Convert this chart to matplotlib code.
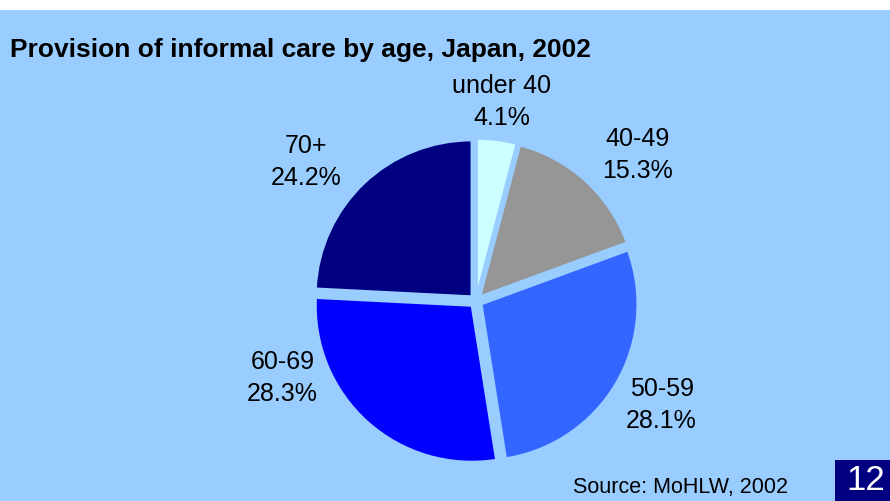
import matplotlib.pyplot as plt
from matplotlib.patches import Rectangle

plt.rcParams['font.family'] = ['Liberation Sans', 'DejaVu Sans']

# 数据
groups = ['under 40', '40-49', '50-59', '60-69', '70+']
shares = [4.1, 15.3, 28.1, 28.3, 24.2]
colors = ['#CCFFFF', '#969696', '#3366FF', '#0000FF', '#000080']
bg = '#99CCFF'

fig = plt.figure(figsize=(8.9, 5.01), dpi=100)
fig.patch.set_facecolor('white')
fig.patches.append(Rectangle((0, 0), 1, 491 / 501, transform=fig.transFigure,
                             facecolor=bg, edgecolor='none', zorder=-5))

# 饼图
ax = fig.add_axes([(476 - 176) / 890, 0.0479, 0.3955, 0.7026])
ax.set_facecolor('none')
ax.pie(shares, colors=colors, startangle=90, counterclock=False,
       explode=[0.04] * len(shares), radius=0.975,
       wedgeprops=dict(edgecolor=bg, linewidth=1.5))
ax.set_xlim(-1.1, 1.1)
ax.set_ylim(-1.1, 1.1)
ax.set_aspect('equal')
ax.axis('off')

# 标签位置
label_pos = [(0.16, 1.244), (1.01, 0.913), (1.16, -0.65),
             (-1.21, -0.48), (-1.06, 0.869)]
for g, s, (x, y) in zip(groups, shares, label_pos):
    ax.text(x, y, f'{g}\n{s}%', ha='center', va='center', fontsize=18,
            linespacing=1.42, clip_on=False)

fig.text(10 / 890, 1 - 50 / 501, 'Provision of informal care by age, Japan, 2002',
         fontsize=19, fontweight='bold', ha='left', va='center')
fig.text(573 / 890, 1 - 488 / 501, 'Source: MoHLW, 2002', fontsize=15.5,
         ha='left', va='center')

fig.patches.append(Rectangle((835 / 890, 0), 55 / 890, 41 / 501,
                             transform=fig.transFigure, facecolor='#000080',
                             edgecolor='none', zorder=1))
fig.text(866 / 890, 1 - 481 / 501, '12', fontsize=25, color='white',
         ha='center', va='center')

fig.savefig('out.png', dpi=100, facecolor=fig.get_facecolor())
